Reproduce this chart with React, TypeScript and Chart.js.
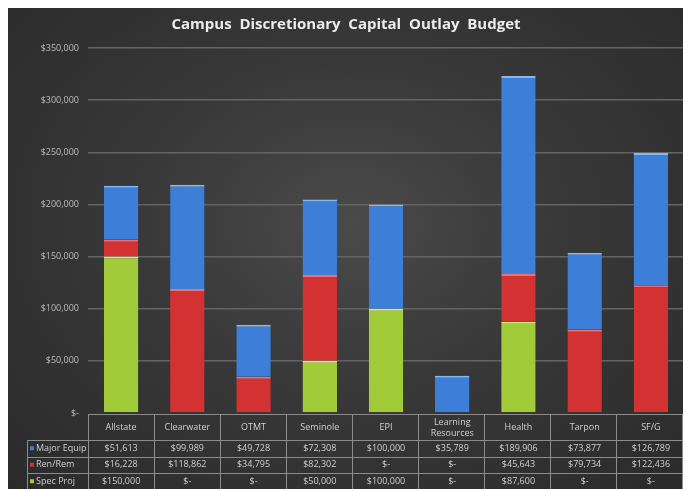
import React, { useEffect, useRef } from "react";
import { Chart, registerables } from "chart.js";

Chart.register(...registerables);

const categories = ["Allstate", "Clearwater", "OTMT", "Seminole", "EPI", "Learning Resources", "Health", "Tarpon", "SF/G"];
const majorEquip = [51613, 99989, 49728, 72308, 100000, 35789, 189906, 73877, 126789];
const renRem = [16228, 118862, 34795, 82302, 0, 0, 45643, 79734, 122436];
const specProj = [150000, 0, 0, 50000, 100000, 0, 87600, 0, 0];
const yTicks = [0, 50000, 100000, 150000, 200000, 250000, 300000, 350000];

const BLUE = "#3d7ed8";
const RED = "#d33232";
const GREEN = "#a2cb3a";

const fmt = (v: number) => (v === 0 ? "$-" : "$" + v.toLocaleString("en-US"));

const tablePlugin = {
  id: "dataTable",
  afterDraw(chart: any) {
    const ctx = chart.ctx;
    const xs = chart.scales.x;
    const area = chart.chartArea;
    const n = categories.length;
    const left = area.left;
    const right = area.right - 2;
    const cw = (right - left) / n;
    const legLeft = 19;
    const y0 = area.bottom + 1;
    const y1 = y0 + 26;
    const y2 = y1 + 16.5;
    const y3 = y2 + 16.5;
    const y4 = y3 + 16.5;
    ctx.save();
    ctx.strokeStyle = "#8c8c8c";
    ctx.lineWidth = 1;
    ctx.beginPath();
    ctx.moveTo(left, y0 + 0.5);
    ctx.lineTo(right, y0 + 0.5);
    for (const y of [y1, y2, y3, y4]) {
      ctx.moveTo(legLeft, Math.round(y) + 0.5);
      ctx.lineTo(right, Math.round(y) + 0.5);
    }
    for (let k = 0; k <= n; k++) {
      const x = Math.round(left + k * cw) + 0.5;
      ctx.moveTo(x, y0);
      ctx.lineTo(x, y4);
    }
    ctx.moveTo(legLeft + 0.5, y1);
    ctx.lineTo(legLeft + 0.5, y4);
    ctx.stroke();

    ctx.fillStyle = "#d0d0d0";
    ctx.font = "9px 'Open Sans'";
    ctx.textAlign = "center";
    ctx.textBaseline = "middle";
    categories.forEach((c, i) => {
      const cx = xs.getPixelForValue(i);
      if (c === "Learning Resources") {
        ctx.fillText("Learning", cx, (y0 + y1) / 2 - 5);
        ctx.fillText("Resources", cx, (y0 + y1) / 2 + 6);
      } else {
        ctx.fillText(c, cx, (y0 + y1) / 2);
      }
    });
    const rows = [
      { name: "Major Equip", color: BLUE, data: majorEquip },
      { name: "Ren/Rem", color: RED, data: renRem },
      { name: "Spec Proj", color: GREEN, data: specProj },
    ];
    const ys = [y1, y2, y3, y4];
    rows.forEach((r, ri) => {
      const cy = (ys[ri] + ys[ri + 1]) / 2;
      ctx.textAlign = "center";
      ctx.fillStyle = "#d0d0d0";
      r.data.forEach((v, i) => {
        ctx.fillText(fmt(v), xs.getPixelForValue(i), cy);
      });
      ctx.fillStyle = r.color;
      ctx.fillRect(legLeft + 3, cy - 2, 4, 4);
      ctx.fillStyle = "#d0d0d0";
      ctx.textAlign = "left";
      ctx.fillText(r.name, legLeft + 9, cy);
    });
    ctx.restore();
  },
};

export default function App() {
  const ref = useRef<HTMLCanvasElement>(null);
  useEffect(() => {
    if (!ref.current) return;
    const mk = (label: string, data: number[], color: string, top: string) => ({
      label,
      data,
      backgroundColor: color,
      borderColor: top,
      borderWidth: { top: 2, left: 0, right: 0, bottom: 0 },
      borderSkipped: false,
      barPercentage: 0.52,
      categoryPercentage: 1,
    });
    const chart = new Chart(ref.current, {
      type: "bar",
      data: {
        labels: categories,
        datasets: [
          mk("Spec Proj", specProj, GREEN, "#d6ee7a"),
          mk("Ren/Rem", renRem, RED, "#ee7070"),
          mk("Major Equip", majorEquip, BLUE, "#86b8f0"),
        ],
      },
      options: {
        animation: false,
        responsive: false,
        maintainAspectRatio: false,
        layout: { padding: { left: 0, right: 7, top: 0, bottom: 76 } },
        plugins: {
          legend: { display: false },
          tooltip: { enabled: false },
          title: {
            display: true,
            text: "Campus  Discretionary  Capital  Outlay  Budget",
            color: "#ececec",
            font: { family: "'Open Sans'", size: 15, weight: "bold" },
            padding: { top: 10, bottom: 14 },
          },
        },
        scales: {
          x: { stacked: true, display: false },
          y: {
            stacked: true,
            min: 0,
            max: 350000,
            afterFit: (s: any) => {
              s.width = 80;
            },
            afterBuildTicks: (s: any) => {
              s.ticks = yTicks.map((v) => ({ value: v }));
            },
            ticks: {
              color: "#bdbdbd",
              font: { family: "'Open Sans'", size: 9 },
              padding: 9,
              callback: (v: any) => fmt(Number(v)),
            },
            grid: {
              color: (c: any) => (c.tick && c.tick.value === 0 ? "rgba(0,0,0,0)" : "#646464"),
              lineWidth: 1.5,
              drawTicks: false,
            },
            border: { display: false },
          },
        },
      },
      plugins: [tablePlugin],
    });
    return () => chart.destroy();
  }, []);
  return (
    <div
      style={{
        width: 683,
        height: 483,
        marginTop: -2,
        background: "radial-gradient(ellipse at 50% 45%, #4a4a4a 0%, #383838 45%, #2a2a2a 100%)",
      }}
    >
      <canvas ref={ref} width={683} height={483} style={{ display: "block" }} />
    </div>
  );
}
